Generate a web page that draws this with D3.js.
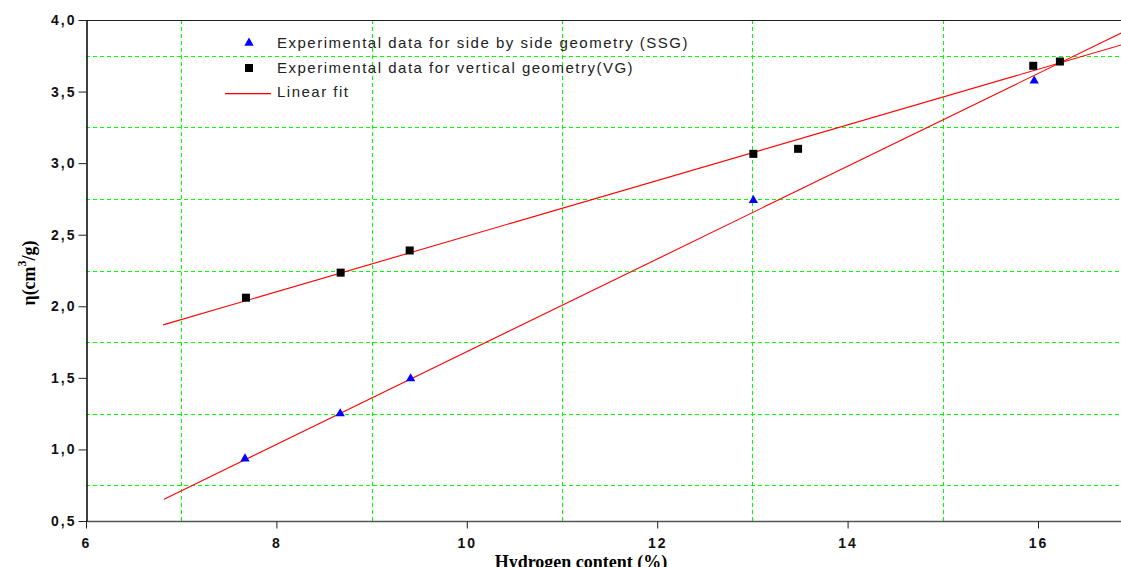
<!DOCTYPE html>
<html>
<head>
<meta charset="utf-8">
<script src="https://cdn.jsdelivr.net/npm/d3@7"></script>
<style>
  body { margin: 0; background: #fff; }
  svg { display: block; }
</style>
</head>
<body>
<svg id="chart"></svg>
<script>
// data
var ssgX = [7.67, 8.67, 9.41, 13.01, 15.96];
var ssgY = [0.935, 1.25, 1.495, 2.74, 3.575];
var vgX = [7.68, 8.675, 9.40, 13.01, 13.48, 15.95, 16.23];
var vgY = [2.06, 2.235, 2.39, 3.065, 3.10, 3.68, 3.71];
// linear fit end points
var ssgFitX = [6.82, 17.0];
var ssgFitY = [0.652, 3.95];
var vgFitX = [6.81, 17.0];
var vgFitY = [1.87, 3.85];

var xTicks = [6, 8, 10, 12, 14, 16];
var xGrid = [7, 9, 11, 13, 15];
var yTicks = [0.5, 1.0, 1.5, 2.0, 2.5, 3.0, 3.5, 4.0];
var yGrid = [0.75, 1.25, 1.75, 2.25, 2.75, 3.25, 3.75];

var legendLabels = ["Experimental data for side by side geometry (SSG)",
                    "Experimental data for vertical geometry(VG)",
                    "Linear fit"];

var W = 1121, H = 567;
var svg = d3.select("#chart").attr("width", W).attr("height", H);

var plot = {left: 86, top: 20, bottom: 521};
// x runs past the right edge of the picture
var xs = d3.scaleLinear().domain([6, 17]).range([plot.left, plot.left + 11 * 95.2]);
var ys = d3.scaleLinear().domain([0.5, 4]).range([plot.bottom, plot.top]);

//grid
var grid = svg.append("g").attr("shape-rendering", "crispEdges");
grid.selectAll(".vgrid").data(xGrid).enter().append("line")
  .attr("class", "vgrid")
  .attr("x1", function(d){return Math.round(xs(d)) + 0.5;})
  .attr("x2", function(d){return Math.round(xs(d)) + 0.5;})
  .attr("y1", plot.top).attr("y2", plot.bottom)
  .attr("stroke", "#00ff00").attr("stroke-width", 1)
  .attr("stroke-dasharray", "4,3");
grid.selectAll(".hgrid").data(yGrid).enter().append("line")
  .attr("class", "hgrid")
  .attr("y1", function(d){return Math.round(ys(d)) + 0.5;})
  .attr("y2", function(d){return Math.round(ys(d)) + 0.5;})
  .attr("x1", plot.left).attr("x2", W)
  .attr("stroke", "#00ff00").attr("stroke-width", 1)
  .attr("stroke-dasharray", "4,3");

//frame
svg.append("line").attr("x1", plot.left).attr("x2", W)
  .attr("y1", plot.top + 0.5).attr("y2", plot.top + 0.5)
  .attr("stroke", "#222").attr("stroke-width", 1.2);

//axes
var xAxis = d3.axisBottom(xs).tickValues(xTicks).tickSize(7).tickSizeOuter(0)
  .tickFormat(d3.format("d"));
var gx = svg.append("g").attr("transform", "translate(0," + (plot.bottom + 0.5) + ")").call(xAxis);
gx.select(".domain").attr("stroke", "#555").attr("stroke-width", 1.5)
  .attr("d", "M" + plot.left + ",0H" + W);
gx.selectAll(".tick line").attr("stroke", "#222");
gx.selectAll(".tick text")
  .attr("y", 17).attr("dy", "0.71em")
  .style("font-family", "Arial, 'Liberation Sans', sans-serif")
  .style("font-size", "14px").style("font-weight", "bold")
  .style("letter-spacing", "2px").attr("fill", "#111");

var yAxis = d3.axisLeft(ys).tickValues(yTicks).tickSize(8).tickSizeOuter(0)
  .tickFormat(function(d){ return d3.format(".1f")(d).replace(".", ","); });
var gy = svg.append("g").attr("transform", "translate(" + (plot.left + 0.5) + ",0)").call(yAxis);
gy.select(".domain").attr("stroke", "#000").attr("stroke-width", 1.5);
gy.selectAll(".tick line").attr("stroke", "#222");
gy.selectAll(".tick text")
  .attr("x", -10)
  .style("font-family", "Arial, 'Liberation Sans', sans-serif")
  .style("font-size", "14px").style("font-weight", "bold")
  .style("letter-spacing", "2px").attr("fill", "#111");

//fit lines
var fitLine = d3.line().x(function(d){return xs(d[0]);}).y(function(d){return ys(d[1]);});
var fits = [d3.zip(ssgFitX, ssgFitY), d3.zip(vgFitX, vgFitY)];
svg.selectAll(".fit").data(fits).enter().append("path")
  .attr("class", "fit")
  .attr("d", fitLine)
  .attr("fill", "none").attr("stroke", "#ff0000").attr("stroke-width", 1.1);

//points
var triangle = d3.symbol().type(d3.symbolTriangle).size(38);
svg.selectAll(".ssg").data(d3.zip(ssgX, ssgY)).enter().append("path")
  .attr("class", "ssg")
  .attr("d", triangle)
  .attr("transform", function(d){return "translate(" + xs(d[0]) + "," + ys(d[1]) + ")";})
  .attr("fill", "#0000ff");
svg.selectAll(".vg").data(d3.zip(vgX, vgY)).enter().append("rect")
  .attr("class", "vg")
  .attr("x", function(d){return xs(d[0]) - 4;})
  .attr("y", function(d){return ys(d[1]) - 4;})
  .attr("width", 8).attr("height", 8)
  .attr("fill", "#000");

//legend
var leg = svg.append("g");
leg.append("path").attr("d", triangle).attr("transform", "translate(249,43)").attr("fill", "#0000ff");
leg.append("rect").attr("x", 245).attr("y", 64).attr("width", 8).attr("height", 8).attr("fill", "#000");
leg.append("rect").attr("x", 225).attr("y", 93).attr("width", 46).attr("height", 1.3)
  .attr("fill", "#ff0000");
leg.selectAll(".legtext").data(legendLabels).enter().append("text")
  .attr("class", "legtext")
  .attr("x", 277)
  .attr("y", function(d, i){return 48 + i * 24.5;})
  .style("font-family", "Arial, 'Liberation Sans', sans-serif")
  .style("font-size", "15px").style("letter-spacing", "1.5px")
  .attr("fill", "#222")
  .text(function(d){return d;});

//axis titles
svg.append("text")
  .attr("x", 581).attr("y", 568)
  .attr("text-anchor", "middle")
  .style("font-family", "'Times New Roman', 'Liberation Serif', serif")
  .style("font-size", "18px").style("font-weight", "bold")
  .text("Hydrogen content (%)");

var yt = svg.append("text")
  .attr("transform", "translate(35,273) rotate(-90)")
  .attr("text-anchor", "middle")
  .style("font-family", "'Times New Roman', 'Liberation Serif', serif")
  .style("font-size", "18px").style("font-weight", "bold");
yt.append("tspan").text("η(cm");
yt.append("tspan").attr("dy", -9).style("font-size", "12px").text("3");
yt.append("tspan").attr("dy", 9).text("/g)");
</script>
</body>
</html>
